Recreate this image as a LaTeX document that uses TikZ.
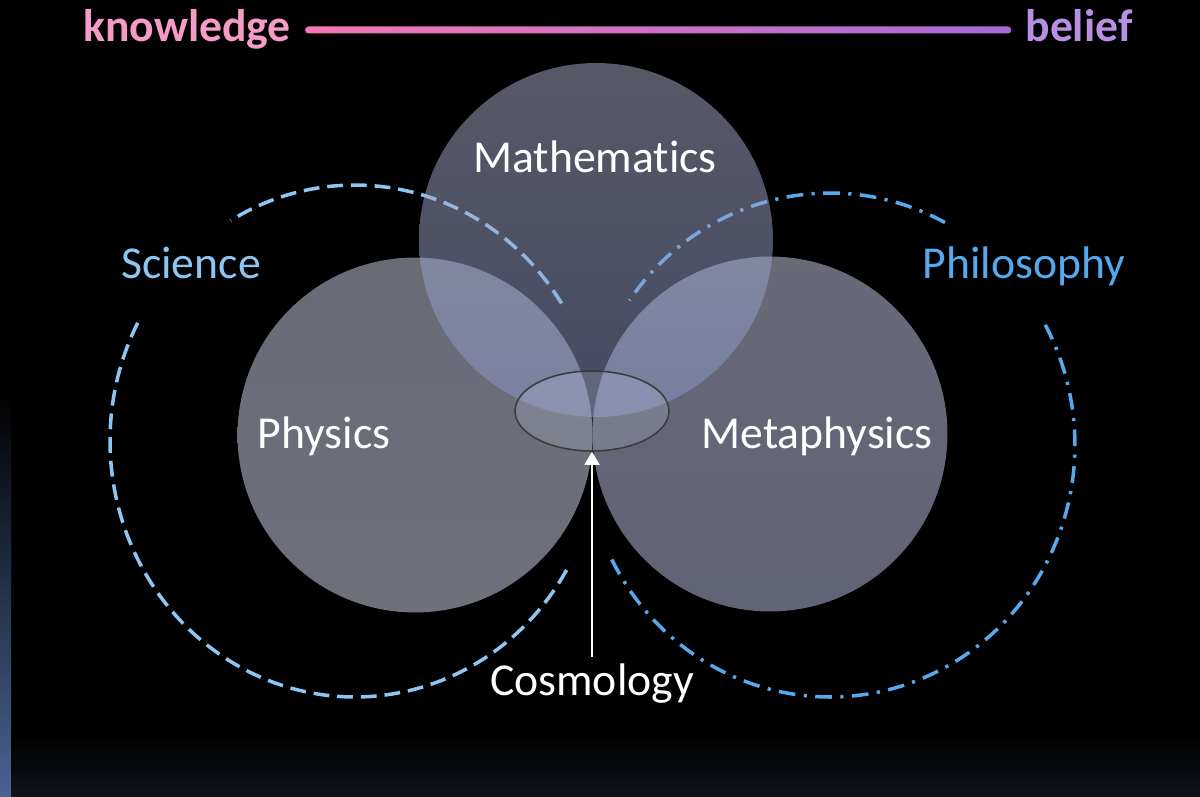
\documentclass[tikz,border=0pt]{standalone}
\usepackage{fontspec}
\setmainfont{Carlito}[Ligatures=NoCommon]
\usepackage{xcolor}
\usetikzlibrary{calc,arrows.meta,positioning,shapes.geometric}
\definecolor{sciblue}{HTML}{8DC6F2}
\definecolor{phiblue}{HTML}{55A9EC}
\definecolor{knowc}{HTML}{F59BC8}
\definecolor{belc}{HTML}{B88FE2}
\definecolor{barl}{HTML}{F478B4}
\definecolor{barr}{HTML}{A66AD6}
\definecolor{stripc}{HTML}{4A6394}
\definecolor{floorc}{HTML}{0F131B}
\definecolor{ringc}{HTML}{3C3C3C}
\definecolor{corec}{HTML}{D8DEF4}
\definecolor{mtop}{HTML}{B0B2CC}
\definecolor{mmid}{HTML}{4E5990}
\definecolor{mbot}{HTML}{8A96CA}
\definecolor{ptop}{HTML}{D2D6EC}
\definecolor{pmid}{HTML}{9CA4CA}
\definecolor{pbot}{HTML}{DCE0F6}
\definecolor{etop}{HTML}{D0D4F0}
\definecolor{emid}{HTML}{747CB2}
\definecolor{ebot}{HTML}{C2C6EC}
\tikzset{
  bubble/.style={circle,draw=none,fill opacity=0.5,minimum size=7.1cm,inner sep=0pt},
  word/.style={anchor=base,text=white,font=\fontsize{26}{31}\selectfont},
  field/.style={anchor=base,font=\fontsize{26}{31}\selectfont},
  sciarc/.style={sciblue,line width=2pt,dash pattern=on 9pt off 4.5pt},
  phiarc/.style={phiblue,line width=2pt,dash pattern=on 9.5pt off 4.8pt on 1.8pt off 4.8pt},
  ar/.style={-{Triangle[length=2.6mm,width=3mm]},white,line width=1.1pt}
}

\begin{document}
\begin{tikzpicture}[x=0.02cm,y=-0.02cm]
\fill[black] (0,0) rectangle (1200,797);
\shade[top color=black,bottom color=stripc] (0,390) rectangle (11,797);
\shade[top color=black,bottom color=floorc] (11,735) rectangle (1200,797);
\coordinate (scic) at (355,441);
\coordinate (phic) at (830,445);
\draw[sciarc] (scic) ++(32.5:4.9cm and 5.12cm) arc[start angle=32.5,end angle=120.5,x radius=4.9cm,y radius=5.12cm];
\draw[sciarc] (scic) ++(152.5:4.9cm and 5.12cm) arc[start angle=152.5,end angle=331,x radius=4.9cm,y radius=5.12cm];
\draw[phiarc] (phic) ++(62:4.9cm and 5.04cm) arc[start angle=62,end angle=145,x radius=4.9cm,y radius=5.04cm];
\draw[phiarc] (phic) ++(207:4.9cm and 5.04cm) arc[start angle=207,end angle=388.5,x radius=4.9cm,y radius=5.04cm];
\node[bubble,top color=ptop,middle color=pmid,bottom color=pbot] (phys) at (415,435) {};
\node[bubble,top color=etop,middle color=emid,bottom color=ebot] (meta) at (770,434) {};
\node[bubble,top color=mtop,middle color=mmid,bottom color=mbot,minimum size=7.08cm] (math) at (596,240) {};
\node[ellipse,draw=ringc,line width=0.9pt,fill=corec,fill opacity=0.18,minimum width=3.08cm,minimum height=1.6cm] (core) at (592,411) {};
\node[word] (mathl) at (595,173) {Mathematics};
\node[word] (physl) at (324,448) {Physics};
\node[word] (metal) at (817,448) {Metaphysics};
\node[word] (cosmo) at (592,695) {Cosmology};
\node[field,text=sciblue] (sci) at (191,278) {Science};
\node[field,text=phiblue] (phi) at (1024,278) {Philosophy};
\node[field,text=knowc,font=\fontsize{26}{31}\selectfont\bfseries] (know) at (187,42) {knowledge};
\node[field,text=belc,font=\fontsize{26}{31}\selectfont\bfseries] (bel) at (1079,42) {belief};
\shade[left color=barl,right color=barr,rounded corners=1.9pt] ($(know.base east)+(8,-15.5)$) rectangle ($(bel.base west)+(-8,-8.5)$);
\draw[ar] (cosmo.north) -- (core.south);
\end{tikzpicture}
\end{document}
